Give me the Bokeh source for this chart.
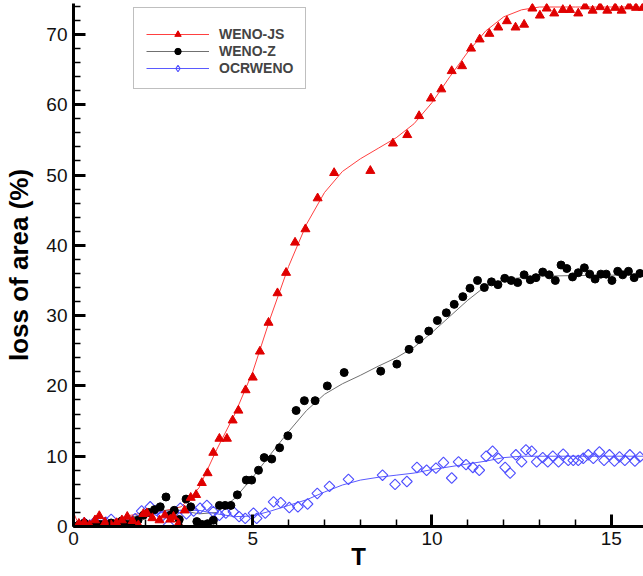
import numpy as np
from bokeh.plotting import figure
from bokeh.models import (Range1d, SingleIntervalTicker, Legend, LegendItem,
                          ColumnDataSource, CDSView, IndexFilter)
from bokeh.embed import file_html
from bokeh.resources import INLINE

# ---- data: WENO-JS (markers) ----
t_js = [0.0, 0.15, 0.3, 0.45, 0.6, 0.72, 0.88, 1.05, 1.2, 1.35, 1.5, 1.65, 1.81, 1.95, 2.05,
        2.2, 2.4, 2.55, 2.7, 2.79, 2.93, 3.1, 3.27, 3.42, 3.58, 3.74, 3.90, 4.07, 4.28, 4.44,
        4.60, 4.80, 5.00, 5.20, 5.44, 5.69, 5.93, 6.18, 6.47, 6.81, 7.27, 8.28, 8.91, 9.31,
        9.64, 9.97, 10.26, 10.55, 10.84, 11.09, 11.33, 11.60, 11.85, 12.09, 12.33, 12.57,
        12.80, 13.01, 13.20, 13.41, 13.65, 13.85, 14.08, 14.27, 14.48, 14.69, 14.89, 15.11,
        15.29, 15.50, 15.69, 15.88]
y_js = [0.0, 0.4, 0.6, 0.2, 0.9, 1.5, 0.6, 0.2, 0.5, 0.9, 1.4, 0.8, 0.2, 1.8, 1.9,
        1.2, 0.9, 1.6, 1.0, 1.4, 0.4, 2.3, 4.1, 4.5, 6.2, 7.6, 10.5, 12.5, 12.5, 15.1,
        16.5, 19.4, 21.2, 24.9, 29.0, 33.2, 36.1, 40.4, 42.3, 46.7, 50.3, 50.6, 54.5, 55.7,
        58.4, 60.9, 62.2, 64.8, 65.5, 68.0, 69.3, 70.1, 71.0, 71.9, 71.0, 71.4,
        73.7, 72.7, 73.7, 73.0, 73.5, 73.5, 73.0, 74.0, 73.4, 73.9, 73.4, 73.8,
        73.4, 74.0, 73.8, 73.8]

# ---- data: WENO-Z (markers) ----
t_wz = [0.0, 0.15, 0.3, 0.45, 0.6, 0.75, 0.9, 1.05, 1.2, 1.35, 1.5, 1.65, 1.8, 1.95, 2.1,
        2.26, 2.42, 2.58, 2.7, 2.81, 2.95, 3.14, 3.27, 3.44, 3.58, 3.74, 3.90, 4.07, 4.23,
        4.39, 4.57, 4.82, 4.97, 5.16, 5.32, 5.53, 5.75, 5.98, 6.21, 6.44, 6.74, 7.08, 7.55,
        8.57, 9.02, 9.36, 9.64, 9.91, 10.15, 10.40, 10.62, 10.86, 11.06, 11.27, 11.46, 11.66,
        11.84, 12.03, 12.21, 12.39, 12.57, 12.74, 12.90, 13.09, 13.27, 13.44, 13.60, 13.76,
        13.92, 14.08, 14.25, 14.40, 14.55, 14.71, 14.86, 15.02, 15.18, 15.32, 15.48, 15.64,
        15.80]
y_wz = [0.0, 0.2, 0.5, 0.1, 0.4, 0.3, 0.0, 0.5, 0.2, 0.8, 0.3, 0.6, 0.9, 1.6, 2.0,
        2.4, 2.8, 4.2, 1.6, 2.3, 1.0, 3.9, 2.8, 0.7, 0.3, 0.4, 0.9, 3.0, 3.0,
        3.0, 4.5, 6.6, 6.6, 8.0, 9.8, 9.6, 11.2, 12.9, 16.5, 17.9, 17.9, 20.0, 21.9,
        22.1, 23.1, 25.2, 26.6, 27.8, 29.3, 30.4, 31.6, 32.7, 33.9, 35.0, 34.0, 34.8,
        34.4, 35.3, 35.0, 34.7, 35.8, 35.1, 35.4, 36.2, 35.8, 35.0, 37.2, 36.7,
        35.5, 36.1, 36.8, 35.9, 35.2, 35.9, 35.9, 35.0, 36.3, 35.8, 36.3, 35.4,
        36.0]

# ---- data: OCRWENO (markers) ----
t_oc = [0.0, 0.15, 0.3, 0.45, 0.6, 0.74, 0.9, 1.05, 1.2, 1.35, 1.5, 1.72, 1.9, 2.14, 2.31,
        2.48, 2.65, 2.79, 2.98, 3.15, 3.35, 3.53, 3.72, 3.90, 4.07, 4.25, 4.46, 4.62, 4.79,
        5.02, 5.11, 5.35, 5.58, 5.78, 6.02, 6.26, 6.53, 6.80, 7.14, 7.67, 8.62, 8.97, 9.30,
        9.58, 9.85, 10.11, 10.32, 10.55, 10.74, 10.95, 11.14, 11.32, 11.51, 11.69, 11.85,
        12.04, 12.18, 12.34, 12.50, 12.62, 12.78, 12.92, 13.09, 13.23, 13.37, 13.53, 13.66,
        13.80, 13.94, 14.08, 14.22, 14.36, 14.50, 14.67, 14.80, 14.95, 15.09, 15.23, 15.38,
        15.52, 15.66, 15.80]
y_oc = [0.0, 0.1, 0.5, 0.2, 0.7, 0.0, 0.6, 1.0, 0.3, 0.6, 0.9, 1.1, 2.2, 2.8, 2.3,
        1.5, 0.2, 1.9, 2.6, 1.8, 2.2, 2.6, 3.0, 2.1, 1.6, 1.9, 2.1, 1.4, 1.15,
        1.9, 1.15, 1.9, 3.5, 3.4, 2.7, 2.8, 3.2, 4.7, 5.7, 6.7, 7.3, 6.0, 6.4,
        8.4, 8.0, 8.3, 9.1, 6.9, 9.2, 8.8, 8.4, 8.0, 10.0, 10.7, 9.7,
        8.4, 7.6, 10.2, 9.2, 10.9, 10.7, 9.2, 9.8, 9.2, 10.0, 9.2, 10.3,
        9.4, 9.4, 9.4, 9.7, 10.2, 9.7, 10.6, 9.4, 10.2, 9.3, 9.9, 9.4,
        10.2, 9.3, 9.9]

# ---- data: fitted curves ----
tc_js = [0.0, 0.15, 0.5, 1.0, 1.5, 2.0, 2.5, 3.0, 3.25, 3.5, 4.0, 4.5, 5.0, 5.5, 6.0, 6.5,
         7.0, 7.5, 8.0, 8.5, 9.0, 9.5, 10.0, 10.5, 11.0, 11.5, 12.0, 12.5, 13.0, 14.0, 16.0]
yc_js = [2.0, 0.2, 0.3, 0.8, 1.5, 2.0, 2.2, 2.8, 4.0, 5.5, 11.0, 16.0, 22.0, 29.8, 37.0, 43.0,
         47.5, 50.5, 52.3, 53.8, 55.3, 57.3, 60.3, 64.0, 67.5, 70.5, 72.5, 73.5, 73.9, 73.9, 73.9]

tc_wz = [0.0, 0.5, 1.0, 1.5, 2.0, 2.5, 3.0, 3.5, 4.0, 4.5, 5.0, 5.5, 6.0, 6.5, 7.0, 7.5,
         8.0, 8.5, 9.0, 9.5, 10.0, 10.5, 11.0, 11.5, 12.0, 12.5, 13.0, 14.0, 16.0]
yc_wz = [0.5, 0.2, 0.5, 1.2, 1.8, 2.3, 2.3, 1.8, 2.0, 4.0, 7.0, 10.3, 13.5, 16.5, 18.8, 20.3,
         21.5, 22.8, 24.0, 25.5, 27.6, 29.9, 32.2, 34.2, 35.1, 35.4, 35.6, 35.7, 35.8]

tc_oc = [0.0, 0.5, 1.0, 1.5, 2.0, 2.5, 3.0, 3.5, 4.0, 4.5, 5.0, 5.5, 6.0, 6.5, 7.0, 7.5,
         8.0, 8.5, 9.0, 9.5, 10.0, 10.5, 11.0, 11.5, 12.0, 12.5, 13.0, 16.0]
yc_oc = [0.0, 0.3, 0.6, 1.0, 1.6, 2.0, 2.3, 2.3, 1.8, 1.4, 1.5, 2.2, 3.0, 3.8, 4.9, 5.9,
         6.6, 7.0, 7.3, 7.6, 8.1, 8.5, 8.9, 9.3, 9.8, 10.0, 10.0, 10.0]

x_label = "T"
y_label = "loss of area (%)"
names = ["WENO-JS", "WENO-Z", "OCRWENO"]

FONT = "Liberation Sans"

p = figure(width=643, height=576, output_backend="svg", toolbar_location=None,
           x_range=Range1d(0, 15.9), y_range=Range1d(0, 74.4),
           min_border_left=73, min_border_right=0, min_border_top=3, min_border_bottom=50)
p.outline_line_color = None
p.grid.visible = False
p.background_fill_color = "white"
p.border_fill_color = "white"

p.xaxis.ticker = SingleIntervalTicker(interval=5, num_minor_ticks=5)
p.yaxis.ticker = SingleIntervalTicker(interval=10, num_minor_ticks=5)
for ax in (p.xaxis[0], p.yaxis[0]):
    ax.axis_line_width = 3
    ax.axis_line_color = "black"
    ax.major_tick_in = 12
    ax.major_tick_out = 0
    ax.minor_tick_in = 7
    ax.minor_tick_out = 0
    ax.major_tick_line_width = 3
    ax.minor_tick_line_width = 1.5
    ax.major_label_text_font = FONT
    ax.major_label_text_font_size = "19px"
    ax.major_label_text_color = "#111111"
    ax.axis_label_text_font = FONT
    ax.axis_label_text_font_style = "bold"
    ax.axis_label_text_color = "black"
p.xaxis.major_label_standoff = 5
p.yaxis.major_label_standoff = 6
p.xaxis.axis_label = x_label
p.yaxis.axis_label = y_label
p.xaxis.axis_label_text_font_size = "24px"
p.yaxis.axis_label_text_font_size = "26px"
p.xaxis.axis_label_standoff = -5
p.yaxis.axis_label_standoff = 9

# curves
l_js = p.line(tc_js, yc_js, line_color="#ff4040", line_width=1)
l_wz = p.line(tc_wz, yc_wz, line_color="#707070", line_width=1)
l_oc = p.line(tc_oc, yc_oc, line_color="#5a5aff", line_width=1)

# markers (OCRWENO: first point drawn as a diamond glyph, which also feeds the legend swatch)
src_oc = ColumnDataSource(dict(t=t_oc, y=y_oc))
m_oc = p.scatter("t", "y", source=src_oc, view=CDSView(filter=IndexFilter(list(range(1, len(t_oc))))),
                 marker="square", size=7.5, angle=np.pi / 4,
                 fill_color=None, line_color="#4d4dff", line_width=1.1)
d_oc = p.scatter("t", "y", source=src_oc, view=CDSView(filter=IndexFilter([0])),
                 marker="diamond", size=12, fill_color=None,
                 line_color="#4d4dff", line_width=1.1)
m_wz = p.scatter(t_wz, y_wz, marker="circle", size=8, fill_color="black", line_color="black")
m_js = p.scatter(t_js, y_js, marker="triangle", size=9, fill_color="#e00000",
                 line_color="#e00000")

legend = Legend(items=[LegendItem(label=names[0], renderers=[l_js, m_js]),
                       LegendItem(label=names[1], renderers=[l_wz, m_wz]),
                       LegendItem(label=names[2], renderers=[l_oc, d_oc])],
                location=(60, 437))
legend.title = " "
legend.title_text_font_size = "6px"
legend.title_standoff = 0
legend.border_line_color = "#808080"
legend.border_line_width = 1.5
legend.background_fill_color = "white"
legend.background_fill_alpha = 1
legend.glyph_width = 63
legend.glyph_height = 16
legend.label_height = 16
legend.label_standoff = 10
legend.padding = 12
legend.spacing = 1
legend.margin = 0
legend.label_text_font = FONT
legend.label_text_font_size = "14px"
legend.label_text_font_style = "bold"
p.add_layout(legend)

open("out.html", "w").write(file_html(p, INLINE))
